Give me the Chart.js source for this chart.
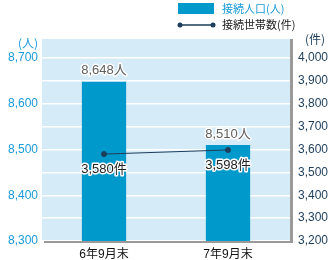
<!DOCTYPE html>
<html>
<head>
<meta charset="utf-8">
<script src="https://cdn.jsdelivr.net/npm/chart.js"></script>
<style>
  html, body { margin: 0; padding: 0; background: #fff; }
  #wrap { width: 332px; height: 260px; }
</style>
</head>
<body>
<div id="wrap"><canvas id="chart" width="332" height="260"></canvas></div>
<script>
const categories = ['6年9月末', '7年9月末'];
const population = [8648, 8510];
const households = [3580, 3598];
const popLabels = ['8,648人', '8,510人'];
const houseLabels = ['3,580件', '3,598件'];
const seriesNames = ['接続人口(人)', '接続世帯数(件)'];

const FONT = '"Liberation Sans", Arial, "Noto Sans CJK JP", sans-serif';
const CJK = '"Noto Sans CJK JP", sans-serif';
const BAR = '#0099cc';
const NAVY = '#1d3d5a';

const fmt = v => v.toLocaleString('en-US');

const decor = {
  id: 'decor',
  beforeDraw(c) {
    const { ctx, chartArea: a } = c;
    ctx.save();
    ctx.fillStyle = '#d5ebf8';
    ctx.fillRect(a.left, 39, a.right - a.left, a.bottom - 39);
    ctx.restore();
  },
  afterDatasetsDraw(c) {
    const { ctx, chartArea: a } = c;
    ctx.save();
    ctx.fillStyle = '#9a9a9a';
    ctx.fillRect(a.right, 39, 3, a.bottom - 39 + 2);
    ctx.fillRect(a.left + 2, a.bottom, a.right - a.left + 1, 2);

    // value labels
    ctx.font = '13px ' + FONT;
    ctx.textAlign = 'center';
    ctx.textBaseline = 'middle';
    ctx.lineJoin = 'round';
    const bars = c.getDatasetMeta(0).data;
    bars.forEach((b, i) => {
      ctx.lineWidth = 3;
      ctx.strokeStyle = '#fff';
      ctx.strokeText(popLabels[i], b.x, b.y - 11);
      ctx.fillStyle = '#606060';
      ctx.fillText(popLabels[i], b.x, b.y - 11);
    });
    const pts = c.getDatasetMeta(1).data;
    pts.forEach((p, i) => {
      ctx.lineWidth = 3;
      ctx.strokeStyle = '#fff';
      ctx.strokeText(houseLabels[i], p.x, p.y + 15);
      ctx.fillStyle = '#222';
      ctx.fillText(houseLabels[i], p.x, p.y + 15);
    });

    // axis units
    ctx.font = '12px ' + CJK;
    ctx.fillStyle = '#1a9ad6';
    ctx.textAlign = 'right';
    ctx.fillText('(人)', 38, 43);
    ctx.fillStyle = NAVY;
    ctx.fillText('(件)', 325, 39);

    // legend
    ctx.fillStyle = BAR;
    ctx.fillRect(178, 3, 36, 11);
    ctx.textAlign = 'left';
    ctx.font = '11px ' + CJK;
    ctx.fillStyle = '#1a9ad6';
    ctx.fillText(seriesNames[0], 222, 9);
    ctx.strokeStyle = NAVY;
    ctx.lineWidth = 1.5;
    ctx.beginPath();
    ctx.moveTo(180, 25);
    ctx.lineTo(213, 25);
    ctx.stroke();
    ctx.fillStyle = NAVY;
    [180, 213].forEach(x => {
      ctx.beginPath();
      ctx.arc(x, 25, 2.5, 0, Math.PI * 2);
      ctx.fill();
    });
    ctx.fillStyle = '#222';
    ctx.fillText(seriesNames[1], 222, 25);
    ctx.restore();
  }
};

new Chart(document.getElementById('chart'), {
  data: {
    labels: categories,
    datasets: [
      {
        type: 'bar',
        label: seriesNames[0],
        data: population,
        backgroundColor: BAR,
        yAxisID: 'y',
        categoryPercentage: 0.7,
        barPercentage: 0.51,
        order: 2
      },
      {
        type: 'line',
        label: seriesNames[1],
        data: households,
        borderColor: NAVY,
        borderWidth: 1,
        pointBackgroundColor: NAVY,
        pointBorderColor: NAVY,
        pointRadius: 2.5,
        yAxisID: 'y1',
        order: 1
      }
    ]
  },
  options: {
    responsive: false,
    animation: false,
    layout: { padding: { top: 58, left: 0, right: 0, bottom: 0 } },
    plugins: { legend: { display: false }, tooltip: { enabled: false } },
    scales: {
      x: {
        afterFit: s => { s.height = 19; },
        grid: { display: false, drawTicks: false },
        border: { display: false },
        ticks: { color: '#111', font: { size: 12, family: FONT }, padding: 6 }
      },
      y: {
        position: 'left',
        min: 8300, max: 8700,
        afterFit: s => { s.width = 42; },
        grid: { display: false, drawTicks: false },
        border: { display: false },
        ticks: {
          stepSize: 100, padding: 4,
          color: '#1a9ad6', font: { size: 12, family: FONT },
          callback: v => fmt(v)
        }
      },
      y1: {
        position: 'right',
        min: 3200, max: 4000,
        afterFit: s => { s.width = 42; },
        grid: { color: '#ffffff', lineWidth: 1.5, drawTicks: false },
        border: { display: false },
        ticks: {
          stepSize: 100, padding: 8,
          color: NAVY, font: { size: 12, family: FONT },
          callback: v => fmt(v)
        }
      }
    }
  },
  plugins: [decor]
});
</script>
</body>
</html>
